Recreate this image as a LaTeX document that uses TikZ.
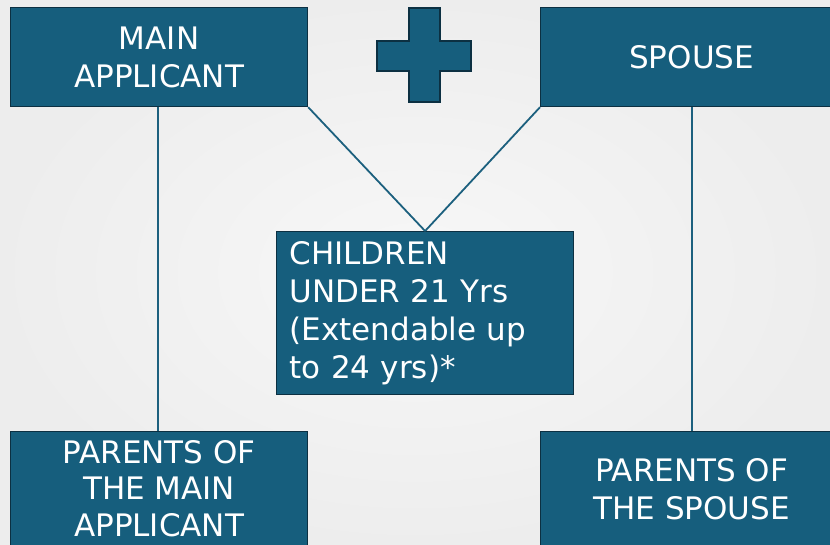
\documentclass[tikz,border=0pt]{standalone}
\usepackage{fontspec}
\setmainfont{DejaVu Sans}
\definecolor{boxfill}{RGB}{22,94,125}
\definecolor{boxedge}{RGB}{12,48,66}
\definecolor{linkcol}{RGB}{28,96,126}
\tikzset{
  famnode/.style={draw=boxedge, line width=1.2pt, fill=boxfill, text=white,
    font=\fontsize{31}{38}\selectfont, align=center, inner sep=0pt, anchor=north west},
  link/.style={draw=linkcol, line width=1.8pt}
}

\begin{document}
\begin{tikzpicture}[x=1pt,y=-1pt]
        \clip (0,0) rectangle (830,544);
        \shade[inner color=white!97!black, outer color=black!7] (0,0) rectangle (830,544);

        \node[famnode, minimum width=297pt, minimum height=99pt] at (10, 7)    (main)  {MAIN\\APPLICANT};
        \node[famnode, minimum width=302pt, minimum height=99pt] at (540, 7)   (spouse)  {SPOUSE};
        \node[famnode, minimum width=297pt, minimum height=163pt, text width=271pt, align=left, inner xsep=13pt] at (276, 231)   (kids)  {CHILDREN\\UNDER 21 Yrs\\(Extendable up\\to 24 yrs)*};
        \node[famnode, minimum width=297pt, minimum height=114pt, font=\fontsize{31}{36.5}\selectfont] at (10, 431)  (pmain)  {PARENTS OF\\THE MAIN\\APPLICANT};
        \node[famnode, minimum width=302pt, minimum height=116pt] at (540, 431) (pspouse)  {PARENTS OF\\THE SPOUSE};

        % plus sign
        \filldraw[fill=boxfill, draw=boxedge, line width=1.2pt]
          (409,8) -- (440,8) -- (440,41) -- (471,41) -- (471,71) -- (440,71)
          -- (440,102) -- (409,102) -- (409,71) -- (377,71) -- (377,41) -- (409,41) -- cycle;

        \draw[link] (main.south east) -- (kids.north);
        \draw[link] (spouse.south west) -- (kids.north);
        \draw[link] ([xshift=-1.5pt]main.south) -- ([xshift=-1.5pt]pmain.north);
        \draw[link] (spouse.south) -- (pspouse.north);
    \end{tikzpicture}
\end{document}
